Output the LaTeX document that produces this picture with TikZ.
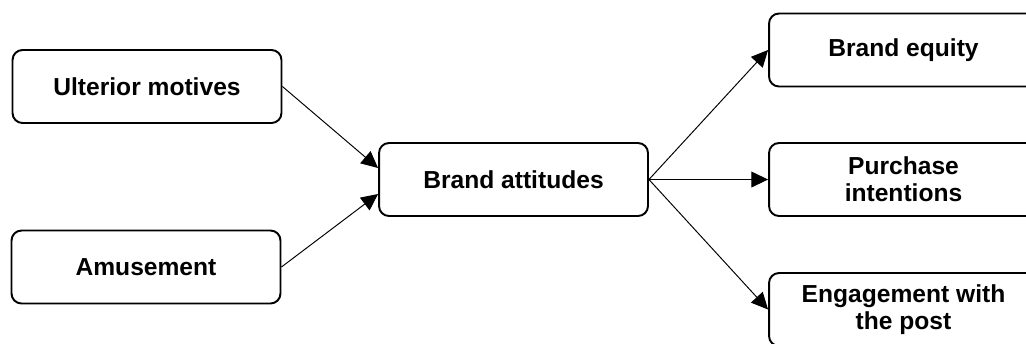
\documentclass[tikz,border=0pt]{standalone}
\usepackage{fontspec}
\setmainfont{Liberation Sans}
\usepackage{tikz}
\usepackage{xcolor}
\usetikzlibrary{arrows.meta}

\tikzset{
    box/.style={draw, line width=1.1pt, rounded corners=0.2cm, align=center,
        minimum width=5.38cm, minimum height=1.46cm, inner sep=0pt,
        font=\fontsize{14}{15.5}\selectfont\bfseries},
    link/.style={line width=0.55pt, -{Triangle[length=9.5pt,width=9pt]}}
}

\begin{document}
\begin{tikzpicture}[x=0.02cm, y=-0.02cm]
    \useasboundingbox (0,0) rectangle (1026,343);
    \clip (0,0) rectangle (1026,343);
    %%%%%%%%%%%%%%%%%%%%%%%%%%%%%%%%%%
    \path(147,86.5) node[box] (motives) {Ulterior motives};
    \path(146,267) node[box] (amusement) {Amusement};
    \path(513.5,179.5) node[box] (attitudes) {Brand attitudes};
    %%%%%%%%%%%%%%%%%%%%%%%%%%%%%%%%%%
    \path(903.5,50) node[box] (equity) {Brand equity};
    \path(903.5,179.5) node[box] (intentions) {Purchase\\intentions};
    \path(903.5,309.5) node[box] (engagement) {Engagement with\\the post};
    %%%%%%%%%%%%%%%%%%%%%%%%%%%%%%%%%%
    \draw[link] (motives.east) -- ([yshift=0.23cm]attitudes.west);
    \draw[link] (amusement.east) -- ([yshift=-0.29cm]attitudes.west);
    \draw[link] (attitudes.east) -- (equity.west);
    \draw[link] (attitudes.east) -- (intentions.west);
    \draw[link] (attitudes.east) -- (engagement.west);
\end{tikzpicture}
\end{document}
